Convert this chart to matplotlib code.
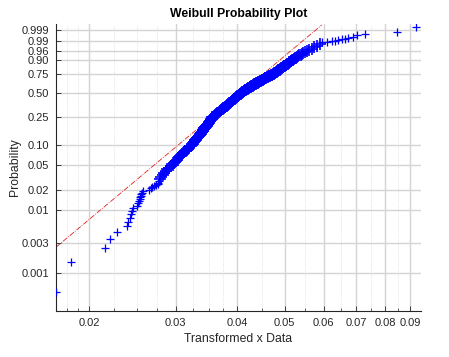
import matplotlib
matplotlib.use('Agg')
import matplotlib.pyplot as plt
import numpy as np

plt.rcParams['font.family'] = ['Liberation Sans', 'DejaVu Sans']

# lower tail: single points
low_x = [0.01715, 0.01836, 0.02156, 0.02207, 0.02277, 0.02384, 0.02401, 0.02418,
         0.02435, 0.02443, 0.02455, 0.02501, 0.02520, 0.02532, 0.02538, 0.02543,
         0.02548, 0.02555, 0.02564, 0.02579, 0.02649, 0.02668, 0.02683, 0.02716,
         0.02737, 0.02757, 0.02767, 0.02775]
low_p = [0.0005, 0.0015, 0.0025, 0.0035, 0.0045, 0.0055, 0.0065, 0.0075,
         0.0085, 0.0095, 0.0105, 0.0115, 0.0125, 0.0135, 0.0145, 0.0155,
         0.0165, 0.0175, 0.0185, 0.0195, 0.0205, 0.0215, 0.0225, 0.0235,
         0.0245, 0.0255, 0.0265, 0.0280]

# dense band, p from 0.03 to 0.1975
band1_x = [0.02789, 0.02807, 0.02825, 0.02844, 0.02862, 0.02888, 0.02913, 0.02939,
           0.02964, 0.02978, 0.02992, 0.03006, 0.03020, 0.03034, 0.03049, 0.03063,
           0.03077, 0.03092, 0.03107, 0.03121, 0.03136, 0.03149, 0.03162, 0.03174,
           0.03187, 0.03199, 0.03210, 0.03221,
           0.03232, 0.03241, 0.03250, 0.03258, 0.03267, 0.03275, 0.03284, 0.03293,
           0.03301, 0.03308, 0.03315, 0.03322, 0.03329, 0.03335, 0.03342, 0.03349,
           0.03356, 0.03362, 0.03368, 0.03374, 0.03380, 0.03386, 0.03392, 0.03397,
           0.03403, 0.03408, 0.03413, 0.03418, 0.03423, 0.03428, 0.03433, 0.03438,
           0.03443, 0.03448, 0.03453, 0.03458, 0.03463, 0.03469, 0.03474, 0.03479]
band1_p = [0.0300, 0.0325, 0.0350, 0.0375, 0.0400, 0.0425, 0.0450, 0.0475,
           0.0500, 0.0525, 0.0550, 0.0575, 0.0600, 0.0625, 0.0650, 0.0675,
           0.0700, 0.0725, 0.0750, 0.0775, 0.0800, 0.0825, 0.0850, 0.0875,
           0.0900, 0.0925, 0.0950, 0.0975,
           0.1000, 0.1025, 0.1050, 0.1075, 0.1100, 0.1125, 0.1150, 0.1175,
           0.1200, 0.1225, 0.1250, 0.1275, 0.1300, 0.1325, 0.1350, 0.1375,
           0.1400, 0.1425, 0.1450, 0.1475, 0.1500, 0.1525, 0.1550, 0.1575,
           0.1600, 0.1625, 0.1650, 0.1675, 0.1700, 0.1725, 0.1750, 0.1775,
           0.1800, 0.1825, 0.1850, 0.1875, 0.1900, 0.1925, 0.1950, 0.1975]

# dense band, p from 0.20 to 0.985
band2_x = [0.03484, 0.03492, 0.03500, 0.03509, 0.03517, 0.03525, 0.03533, 0.03542, 0.03550, 0.03558,
           0.03566, 0.03578, 0.03590, 0.03602, 0.03614, 0.03626, 0.03638, 0.03649, 0.03661, 0.03673,
           0.03685, 0.03697, 0.03708, 0.03719, 0.03731, 0.03742, 0.03754, 0.03765, 0.03776, 0.03788,
           0.03799, 0.03808, 0.03817, 0.03826, 0.03835, 0.03844, 0.03853, 0.03862, 0.03871, 0.03880,
           0.03889, 0.03898, 0.03908, 0.03917, 0.03926, 0.03935, 0.03945, 0.03954, 0.03963, 0.03972,
           0.03981, 0.03991, 0.04000, 0.04010, 0.04019, 0.04028, 0.04038, 0.04047, 0.04057, 0.04066,
           0.04076, 0.04086, 0.04097, 0.04108, 0.04118, 0.04129, 0.04139, 0.04150, 0.04161, 0.04171,
           0.04182, 0.04194, 0.04206, 0.04218, 0.04230, 0.04242, 0.04253, 0.04265, 0.04277, 0.04289,
           0.04301, 0.04314, 0.04328, 0.04341, 0.04354, 0.04368, 0.04381, 0.04394, 0.04407, 0.04421,
           0.04434, 0.04448, 0.04462, 0.04475, 0.04489, 0.04503, 0.04516, 0.04530, 0.04544, 0.04557,
           0.04571, 0.04588, 0.04604, 0.04620, 0.04637, 0.04653, 0.04670, 0.04686, 0.04702, 0.04719,
           0.04735, 0.04749, 0.04762, 0.04776, 0.04789, 0.04803, 0.04816, 0.04830, 0.04843, 0.04857,
           0.04870, 0.04884, 0.04898, 0.04912, 0.04926, 0.04940, 0.04953, 0.04967, 0.04981, 0.04995,
           0.05009, 0.05026, 0.05042, 0.05059, 0.05076, 0.05093, 0.05109, 0.05126, 0.05143, 0.05159,
           0.05176, 0.05201, 0.05225, 0.05250, 0.05275, 0.05299,
           0.05324, 0.05356, 0.05387, 0.05419,
           0.05450, 0.05495, 0.05540, 0.05606, 0.05671, 0.05745, 0.05819, 0.05902]
band2_p = [0.200, 0.205, 0.210, 0.215, 0.220, 0.225, 0.230, 0.235, 0.240, 0.245,
           0.250, 0.255, 0.260, 0.265, 0.270, 0.275, 0.280, 0.285, 0.290, 0.295,
           0.300, 0.305, 0.310, 0.315, 0.320, 0.325, 0.330, 0.335, 0.340, 0.345,
           0.350, 0.355, 0.360, 0.365, 0.370, 0.375, 0.380, 0.385, 0.390, 0.395,
           0.400, 0.405, 0.410, 0.415, 0.420, 0.425, 0.430, 0.435, 0.440, 0.445,
           0.450, 0.455, 0.460, 0.465, 0.470, 0.475, 0.480, 0.485, 0.490, 0.495,
           0.500, 0.505, 0.510, 0.515, 0.520, 0.525, 0.530, 0.535, 0.540, 0.545,
           0.550, 0.555, 0.560, 0.565, 0.570, 0.575, 0.580, 0.585, 0.590, 0.595,
           0.600, 0.605, 0.610, 0.615, 0.620, 0.625, 0.630, 0.635, 0.640, 0.645,
           0.650, 0.655, 0.660, 0.665, 0.670, 0.675, 0.680, 0.685, 0.690, 0.695,
           0.700, 0.705, 0.710, 0.715, 0.720, 0.725, 0.730, 0.735, 0.740, 0.745,
           0.750, 0.755, 0.760, 0.765, 0.770, 0.775, 0.780, 0.785, 0.790, 0.795,
           0.800, 0.805, 0.810, 0.815, 0.820, 0.825, 0.830, 0.835, 0.840, 0.845,
           0.850, 0.855, 0.860, 0.865, 0.870, 0.875, 0.880, 0.885, 0.890, 0.895,
           0.900, 0.905, 0.910, 0.915, 0.920, 0.925,
           0.930, 0.935, 0.940, 0.945,
           0.950, 0.955, 0.960, 0.965, 0.970, 0.975, 0.980, 0.985]

# upper tail
up_x = [0.0595, 0.0609, 0.0623, 0.0633, 0.0643, 0.0653, 0.0663,
        0.0674, 0.0690, 0.0703, 0.0728, 0.0845, 0.0925]
up_p = [0.9875, 0.9885, 0.9895, 0.9905, 0.9915, 0.9925, 0.9935,
        0.9945, 0.9955, 0.9965, 0.9975, 0.9985, 0.9995]

# reference line end points
ref_x = [0.01715, 0.0595]
ref_p = [0.00258, 0.99975]

prob_ticks = [0.001, 0.003, 0.01, 0.02, 0.05, 0.10, 0.25, 0.50, 0.75, 0.90, 0.96, 0.99, 0.999]
prob_labels = ['0.001', '0.003', '0.01', '0.02', '0.05', '0.10', '0.25', '0.50',
               '0.75', '0.90', '0.96', '0.99', '0.999']
x_ticks = [0.02, 0.03, 0.04, 0.05, 0.06, 0.07, 0.08, 0.09]
x_labels = ['0.02', '0.03', '0.04', '0.05', '0.06', '0.07', '0.08', '0.09']
x_minor = [0.018, 0.019, 0.0225, 0.025, 0.0275, 0.0325, 0.035, 0.0375,
           0.045, 0.055, 0.065, 0.075, 0.085]


def fwd(p):
    p = np.asarray(p, dtype=float)
    with np.errstate(all='ignore'):
        return np.log(-np.log(1 - p))


def inv(w):
    w = np.asarray(w, dtype=float)
    with np.errstate(all='ignore'):
        return 1 - np.exp(-np.exp(w))


tail_x = np.array(low_x + up_x)
tail_p = np.array(low_p + up_p)
band_x = np.array(band1_x + band2_x)
band_p = np.array(band1_p + band2_p)

fig = plt.figure(figsize=(4.49, 3.57), dpi=100)
ax = fig.add_axes([0.1247, 0.1289, 0.9376 - 0.1247, 0.9328 - 0.1289])

ax.set_xscale('log')
ax.set_yscale('function', functions=(fwd, inv))

ax.plot(tail_x, tail_p, '+', color='#0000ff', ms=6, mew=0.9, zorder=3)
# the dense part looks wider in the reference, so heavier markers there
ax.plot(band_x, band_p, '+', color='#0000ff', ms=8.5, mew=1.2, zorder=3)
ax.plot(ref_x, ref_p, '-.', color='#e02020', lw=0.6, zorder=2)

ax.set_xlim(0.01713, 0.0947)
ax.set_ylim(2.52e-4, 0.999814)

ax.set_xticks(x_ticks)
ax.set_xticklabels(x_labels)
ax.set_xticks(x_minor, minor=True)
ax.set_xticklabels([], minor=True)
ax.set_yticks(prob_ticks)
ax.set_yticklabels(prob_labels)
ax.set_yticks([], minor=True)

ax.grid(which='major', color='#d4d4d4', lw=1.0, ls='-')
ax.grid(which='minor', axis='x', color='#d8d8d8', lw=0.6, ls=':')
ax.set_axisbelow(True)

ax.spines['top'].set_visible(False)
ax.spines['right'].set_visible(False)
for s in ['left', 'bottom']:
    ax.spines[s].set_color('#262626')
    ax.spines[s].set_linewidth(0.8)
ax.tick_params(which='both', direction='in', colors='#262626', labelsize=8, pad=5)
ax.tick_params(which='major', length=3.5, width=0.6)
ax.tick_params(which='minor', length=2, width=0.5)

ax.set_title('Weibull Probability Plot', fontsize=8.8, fontweight='bold', pad=5)
ax.set_xlabel('Transformed x Data', fontsize=8.8, color='#262626', labelpad=4)
ax.set_ylabel('Probability', fontsize=8.8, color='#262626', labelpad=0)

fig.savefig('out.png', dpi=100)
